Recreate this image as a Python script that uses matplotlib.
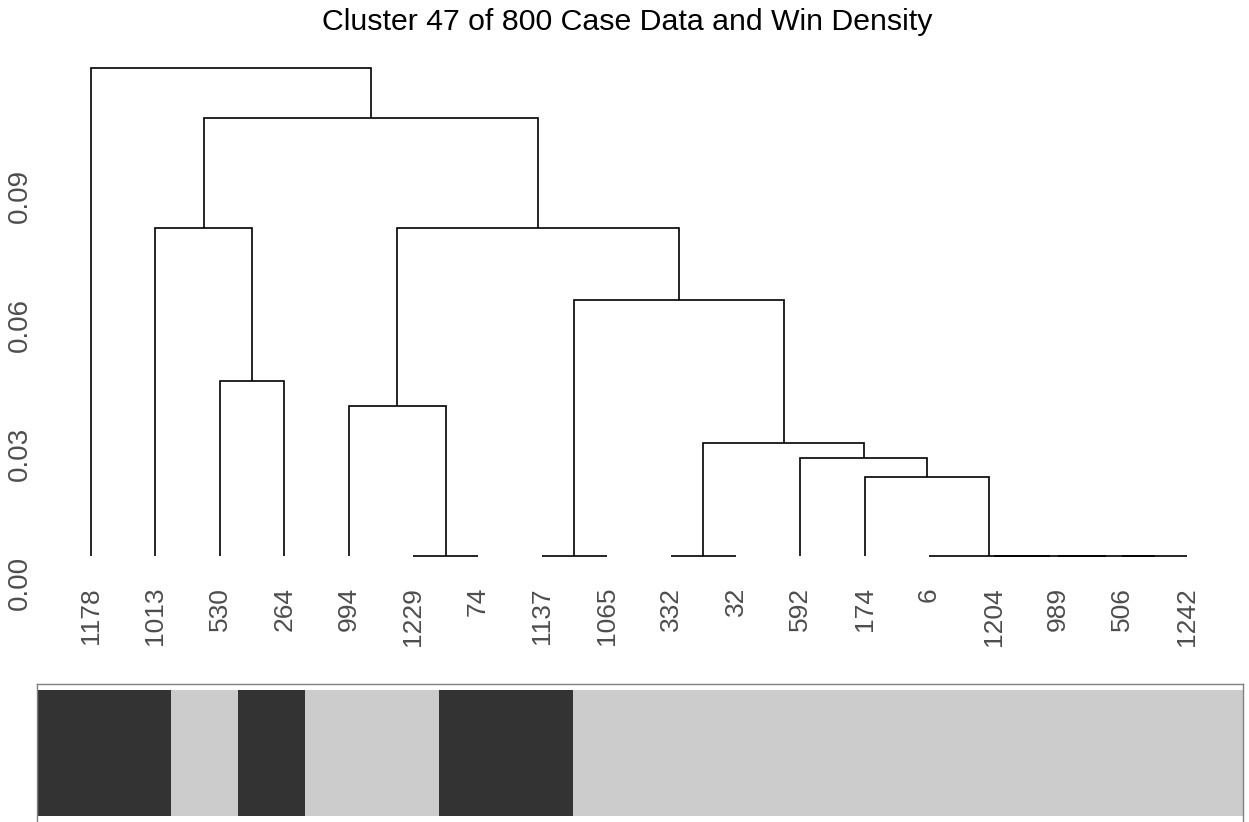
import numpy as np
import matplotlib
matplotlib.use("Agg")
import matplotlib.pyplot as plt
from matplotlib.colors import ListedColormap

plt.rcParams['font.family'] = ['Liberation Sans', 'DejaVu Sans']

# leaf labels in dendrogram order
labels = ['1178', '1013', '530', '264', '994', '1229', '74', '1137', '1065',
          '332', '32', '592', '174', '6', '1204', '989', '506', '1242']

# merge table, R style: negative = leaf (1-based), positive = earlier step
merge_left = [-17, -16, -15, -14, -13, -12, -10, 7, -8, 9, -6, -5, 12, -3, -2, 15, -1]
merge_right = [-18, 1, 2, 3, 4, 5, -11, 6, -9, 8, -7, 11, 10, -4, 14, 13, 16]
leaf_height = 0.0063
merge_height = [0.0063, 0.0063, 0.0063, 0.0063, 0.0247, 0.0291, 0.0063, 0.0326,
                0.0063, 0.0658, 0.0063, 0.0412, 0.0826, 0.0470, 0.0826, 0.1081, 0.1198]

# win density per case (1 = win)
win = [1, 1, 0, 1, 0, 0, 1, 1, 0, 0, 0, 0, 0, 0, 0, 0, 0, 0]

W, H = 1249, 822
fig = plt.figure(figsize=(W / 100, H / 100), dpi=100)

# dendrogram axes
ax = fig.add_axes([37 / W, 1 - 600 / H, (1243 - 37) / W, 540 / H])
ax.set_xlim(-0.8376, 17.87)
ax.set_ylim(-0.00395, 0.1216)
for s in ax.spines.values():
    s.set_visible(False)
ax.set_xticks([])
ax.set_yticks([0, 0.03, 0.06, 0.09])
ax.set_yticklabels(['0.00', '0.03', '0.06', '0.09'], rotation=90, va='center',
                   fontsize=20, color='#4d4d4d')
ax.tick_params(axis='y', length=0, pad=3)

def node_pos(ref):
    if ref < 0:
        return float(-ref - 1), leaf_height
    return pos[ref - 1]

pos = []
lc = 'black'
lw = 1.2
for a, b, h in zip(merge_left, merge_right, merge_height):
    xa, ha = node_pos(a)
    xb, hb = node_pos(b)
    ax.plot([xa, xa, xb, xb], [ha, h, h, hb], color=lc, lw=lw,
            solid_joinstyle='miter', solid_capstyle='butt')
    pos.append(((xa + xb) / 2, h))

for i, lab in enumerate(labels):
    ax.text(i, leaf_height, lab, rotation=90, ha='center', va='top',
            fontsize=19, color='#4d4d4d',
            transform=ax.transData + matplotlib.transforms.ScaledTranslation(0, -31 / 100, fig.dpi_scale_trans))

fig.text(627 / W, 1 - 22 / H, 'Cluster 47 of 800 Case Data and Win Density',
         ha='center', va='center', fontsize=21.8, color='black')

# win density strip
ax2 = fig.add_axes([37 / W, 1 - 830 / H, (1243 - 37) / W, 146 / H])
cmap = ListedColormap(['#cccccc', '#333333'])
ax2.pcolormesh(np.arange(len(win) + 1), [0, 1], np.array([win]), cmap=cmap,
               vmin=0, vmax=1)
ax2.set_xlim(0, len(win))
ax2.set_ylim(-0.111, 1.0476)
ax2.set_xticks([])
ax2.set_yticks([])
for s in ax2.spines.values():
    s.set_color('#808080')
    s.set_linewidth(1.0)

fig.savefig('out.png', dpi=100)
